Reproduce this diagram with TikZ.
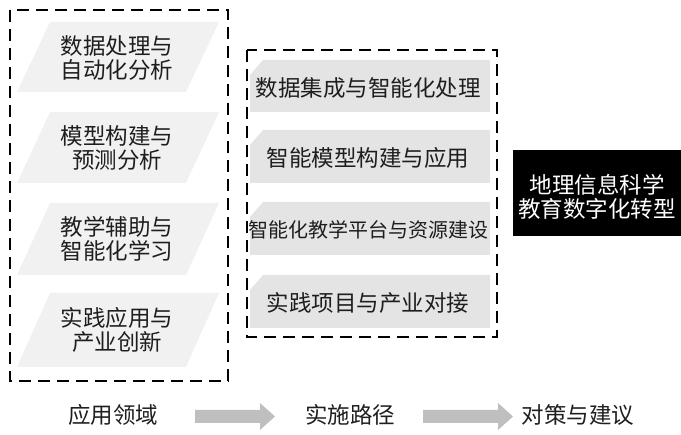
\documentclass[tikz,border=0pt]{standalone}
\usepackage{fontspec}
\newfontfamily\cjk{Noto Sans CJK SC}
\usetikzlibrary{calc}
\definecolor{parafill}{HTML}{F1F1F1}
\definecolor{boxfill}{HTML}{E4E4E4}
\definecolor{arrowgray}{HTML}{BFBFBF}
\definecolor{txt}{HTML}{1E1E1E}
\begin{document}
\begin{tikzpicture}[x=1pt,y=-1pt,
  frame/.style={draw=black, line width=2pt, dash pattern=on 12pt off 7pt},
  para/.style={fill=parafill, draw=none},
  snip/.style={fill=boxfill, draw=none},
  lbl/.style={font=\cjk\fontsize{22.5}{24}\selectfont, text=txt, align=center, inner sep=0pt},
  blk/.style={fill=black, draw=black},
  blocktip/.style={fill=arrowgray, draw=none}]
\useasboundingbox (0,0) rectangle (681,435);

% left frame
\draw[frame] (10,10) rectangle (228,381);
\foreach \t/\b [count=\i] in {22/92,112/183,203/275,293/367}{
  \fill[para] (17,\b) -- (50,\t) -- (219,\t) -- (186,\b) -- cycle;
}
\node[lbl] (l1) at (117,58) {数据处理与\\自动化分析};
\node[lbl] (l2) at (117,148) {模型构建与\\预测分析};
\node[lbl] (l3) at (117,239) {教学辅助与\\智能化学习};
\node[lbl] (l4) at (117,330) {实践应用与\\产业创新};

% middle frame
\draw[frame] (247,50) rectangle (497,337);
\foreach \t/\b in {60/112,130/183,202/255,275/328}{
  \fill[snip] (250,\t+15) -- (263,\t) -- (490,\t) -- (490,\b) -- (250,\b) -- cycle;
}
\node[lbl] (m1) at (368,88) {数据集成与智能化处理};
\node[lbl] (m2) at (368,158) {智能模型构建与应用};
\node[lbl, font=\cjk\fontsize{20}{24}\selectfont] (m3) at (368,230) {智能化教学平台与资源建设};
\node[lbl] (m4) at (368,303) {实践项目与产业对接};

% black box
\fill[blk] (513,150) rectangle (680,235);
\node[lbl, text=white] (goal) at (597,197) {地理信息科学\\教育数字化转型};

% bottom labels
\node[lbl] (b1) at (113,415) {应用领域};
\node[lbl] (b2) at (350,415) {实施路径};
\node[lbl] (b3) at (578,415) {对策与建议};

% block arrows
\fill[blocktip] (195,410) -- (260,410) -- (260,403) -- (275,416.5) -- (260,430) -- (260,423) -- (195,423) -- cycle;
\fill[blocktip] (423,410) -- (498,410) -- (498,403) -- (513,416.5) -- (498,430) -- (498,423) -- (423,423) -- cycle;
\end{tikzpicture}
\end{document}
